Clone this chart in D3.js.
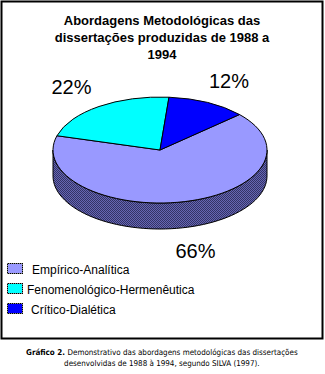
<!DOCTYPE html>
<html>
<head>
<meta charset="utf-8">
<script src="https://cdn.jsdelivr.net/npm/d3@7"></script>
<style>
  body { margin: 0; background: #fff; }
  svg { display: block; }
</style>
</head>
<body>
<svg id="chart" width="325" height="374"></svg>
<script>
'use strict';

// data
var categories = ["Empírico-Analítica", "Fenomenológico-Hermenêutica", "Crítico-Dialética"];
var values = [66, 22, 12];
var colors = ["#9999FF", "#00FFFF", "#0000FF"];
var titleLines = ["Abordagens Metodológicas das", "dissertações produzidas de 1988 a", "1994"];
var captionBold = "Gráfico 2.";
var captionLines = ["Demonstrativo das abordagens metodológicas das dissertações",
                    "desenvolvidas de 1988 à 1994, segundo SILVA (1997)."];

var svg = d3.select("#chart");

// pattern for the dithered side of the pie
var defs = svg.append("defs");
var pat = defs.append("pattern")
    .attr("id", "dither")
    .attr("width", 2).attr("height", 2)
    .attr("patternUnits", "userSpaceOnUse");
pat.append("rect").attr("width", 2).attr("height", 2).attr("fill", "#6666B3");
pat.append("rect").attr("width", 1).attr("height", 1).attr("fill", "#333366");
pat.append("rect").attr("x", 1).attr("y", 1).attr("width", 1).attr("height", 1).attr("fill", "#333366");

var swPat = defs.append("pattern")
    .attr("id", "swdither")
    .attr("width", 2).attr("height", 2)
    .attr("patternUnits", "userSpaceOnUse");
swPat.append("rect").attr("width", 2).attr("height", 2).attr("fill", "#888");
swPat.append("rect").attr("width", 1).attr("height", 1).attr("fill", "#000");
swPat.append("rect").attr("x", 1).attr("y", 1).attr("width", 1).attr("height", 1).attr("fill", "#000");

// frame
svg.append("rect")
    .attr("x", 1.5).attr("y", 1.5)
    .attr("width", 321).attr("height", 337)
    .attr("fill", "none")
    .attr("stroke", "#000")
    .attr("stroke-width", 2);

// title
svg.append("g").selectAll("text")
    .data(titleLines)
    .enter().append("text")
    .attr("x", 162)
    .attr("y", function(d, i) { return 25 + i * 17; })
    .attr("text-anchor", "middle")
    .style("font-family", "Arial, 'Liberation Sans', sans-serif")
    .style("font-weight", "bold")
    .style("font-size", "13px")
    .text(function(d) { return d; });

// pie geometry
var cx = 160, cy = 150, rx = 107, ry = 53, depth = 26;
var startDeg = 48;
var pie = d3.pie()
    .sort(null)
    .value(function(d) { return d; })
    .startAngle(startDeg * Math.PI / 180)
    .endAngle(startDeg * Math.PI / 180 + 2 * Math.PI);
var slices = pie(values);

var arc = d3.arc().innerRadius(0).outerRadius(1);

function ex(a) { return cx + rx * Math.sin(a); }
function ey(a) { return cy - ry * Math.cos(a); }

// side wall (front half, angles 90..270 deg)
var g = svg.append("g");
var a0 = Math.PI / 2, a1 = 3 * Math.PI / 2;
var side = d3.path();
side.moveTo(ex(a0), ey(a0));
side.lineTo(ex(a0), ey(a0) + depth);
var n = 60;
for (var i = 1; i <= n; i++) {
    var a = a0 + (a1 - a0) * i / n;
    side.lineTo(ex(a), ey(a) + depth);
}
side.lineTo(ex(a1), ey(a1));
for (var j = n - 1; j >= 0; j--) {
    var b = a0 + (a1 - a0) * j / n;
    side.lineTo(ex(b), ey(b));
}
side.closePath();
g.append("path")
    .attr("d", side.toString())
    .attr("fill", "url(#dither)")
    .attr("stroke", "#000")
    .attr("stroke-width", 1);

// top face
g.append("g")
    .attr("transform", "translate(" + cx + "," + cy + ") scale(" + rx + "," + ry + ")")
    .selectAll("path")
    .data(slices)
    .enter().append("path")
    .attr("d", arc)
    .attr("fill", function(d, i) { return colors[i]; })
    .attr("stroke", "#000")
    .attr("stroke-width", 1)
    .attr("vector-effect", "non-scaling-stroke");

// percent labels
var k = 1.45;
svg.append("g").selectAll("text")
    .data(slices)
    .enter().append("text")
    .attr("x", function(d) {
        var m = (d.startAngle + d.endAngle) / 2;
        return cx + rx * k * Math.sin(m);
    })
    .attr("y", function(d) {
        var m = (d.startAngle + d.endAngle) / 2;
        var y = cy - ry * k * Math.cos(m);
        if (Math.cos(m) < 0) y += depth;
        return y + 7;
    })
    .attr("text-anchor", "middle")
    .style("font-family", "Arial, 'Liberation Sans', sans-serif")
    .style("font-size", "20px")
    .text(function(d) { return d.data + "%"; });

// legend
var legX = [32, 27, 31];
var leg = svg.append("g").selectAll("g")
    .data(categories)
    .enter().append("g")
    .attr("transform", function(d, i) { return "translate(0," + (263 + i * 20) + ")"; });
leg.append("rect")
    .attr("x", 7.5).attr("y", 0.5)
    .attr("width", 15).attr("height", 10)
    .attr("fill", function(d, i) { return colors[i]; })
    .attr("stroke", "url(#swdither)")
    .attr("stroke-width", 1);
leg.append("text")
    .attr("x", function(d, i) { return legX[i]; })
    .attr("y", 11)
    .style("font-family", "Arial, 'Liberation Sans', sans-serif")
    .style("font-size", "12px")
    .text(function(d) { return d; });

// caption: two lines, fitted to the reference widths
var capFont = "Tahoma, 'DejaVu Sans Condensed', 'DejaVu Sans', sans-serif";
var capSize = 8;
var cap = svg.append("g");
var bold = cap.append("text")
    .style("font-family", capFont).style("font-size", capSize + "px")
    .style("font-weight", "bold").text(captionBold);
var rest1 = cap.append("text")
    .style("font-family", capFont).style("font-size", capSize + "px")
    .text(captionLines[0]);
var wB = bold.node().getComputedTextLength();
var w1 = rest1.node().getComputedTextLength();
var space = capSize * 0.3;
var total = wB + space + w1;
var s = 272 / total;  // shrink to reference width
cap.attr("transform", "translate(" + (162 - 136) + ",355) scale(" + s + ",1)");
bold.attr("x", 0).attr("y", 0);
rest1.attr("x", wB + space).attr("y", 0);

var line2 = svg.append("text")
    .attr("y", 366)
    .style("font-family", capFont).style("font-size", capSize + "px")
    .text(captionLines[1]);
var w2 = line2.node().getComputedTextLength() * s;
line2.attr("transform", "translate(" + (162 - w2 / 2) + ",0) scale(" + s + ",1)");
</script>
</body>
</html>
